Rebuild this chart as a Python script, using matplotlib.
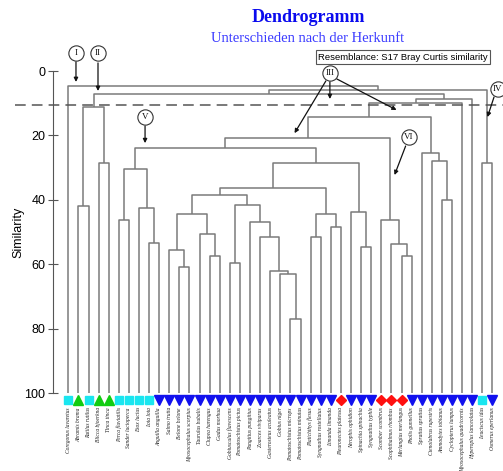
import matplotlib.pyplot as plt

# leaves in plotting order
leaf_names = ['Coregonus lavaretus', 'Abramis brama', 'Rutilus rutilus', 'Blicca bjoerkna',
              'Tinca tinca', 'Perca fluviatilis', 'Sander lucioperca', 'Esox lucius',
              'Lota lota', 'Anguilla anguilla', 'Salmo trutta', 'Belone belone',
              'Myoxocephalus scorpius', 'Taurulus bubalis', 'Clupea harengus', 'Gadus morhua',
              'Gobiusculus flavescens', 'Pomatoschistus pictus', 'Pungitius pungitius',
              'Zoarces viviparus', 'Gasterosteus aculeatus', 'Gobius niger',
              'Pomatoschistus microps', 'Pomatoschistus minutus', 'Platichthys flesus',
              'Syngnathus rostellatus', 'Limanda limanda', 'Pleuronectes platessa',
              'Nerophis ophidion', 'Spinachia spinachia', 'Syngnathus typhle',
              'Scomber scombrus', 'Scophthalmus rhombus', 'Merlangius merlangus',
              'Pholis gunnellus', 'Sprattus sprattus', 'Ctenolabrus rupestris',
              'Ammodytes tobianus', 'Cyclopterus lumpus', 'Myoxocephalus quadricornis',
              'Hyperoplus lanceolatus', 'Leuciscus idus', 'Osmerus eperlanus']
leaf_group = ['q', 'g', 'q', 'g', 'g', 'q', 'q', 'q', 'q',
              'b', 'b', 'b', 'b', 'b', 'b', 'b', 'b', 'b', 'b', 'b', 'b', 'b', 'b', 'b', 'b', 'b', 'b',
              'r', 'b', 'b', 'b', 'r', 'r', 'r',
              'b', 'b', 'b', 'b', 'b', 'b', 'b', 'q', 'b']

# merges: ids < 43 are leaves, id 43+k is the k-th merge
merge_left = [1, 3, 43, 5, 8, 7, 46, 11, 10, 14, 13, 51, 16, 22, 21, 20, 19, 18, 55, 54, 24, 26,
              63, 62, 29, 28, 66, 49, 33, 32, 31, 37, 36, 35, 70, 77, 78, 79, 45, 41, 81, 0]
merge_right = [2, 4, 44, 6, 9, 47, 48, 12, 50, 15, 52, 53, 17, 23, 56, 57, 58, 59, 60, 61, 25, 27,
               64, 65, 30, 67, 68, 69, 34, 71, 72, 38, 74, 75, 73, 76, 39, 40, 80, 42, 82, 83]
merge_sim = [41.9, 28.6, 11.2, 46.3, 53.4, 42.5, 30.4, 61.0, 55.5, 57.5, 50.6, 44.4, 59.5, 77.0,
             63.0, 62.0, 51.5, 47.0, 41.6, 38.5, 51.5, 48.3, 44.5, 36.4, 54.7, 43.8, 28.6, 23.8,
             57.5, 53.8, 46.3, 40.0, 28.0, 25.5, 20.9, 14.3, 9.9, 8.7, 7.1, 28.6, 5.9, 4.7]

cut_level = 10.6
y_ticks = [0, 20, 40, 60, 80, 100]

# group numerals: circle position (leaf index, similarity) and arrows
numerals = ['I', 'II', 'III', 'IV', 'V', 'VI']
num_pos = [(0.76, -5.6), (2.94, -5.6), (25.9, 0.6), (42.5, 5.6), (7.6, 14.3), (33.7, 20.5)]
num_arrows = [[((0.76, -2.8), (0.76, 3.4))],
              [((2.94, -2.5), (2.94, 6.2))],
              [((25.9, 3.4), (25.9, 8.7)), ((25.5, 3.1), (22.4, 19.3)), ((26.6, 2.5), (32.5, 12.1))],
              [((42.15, 8.1), (41.5, 14.3))],
              [((7.6, 17.1), (7.6, 22.4))],
              [((33.4, 23.3), (32.3, 32.3))]]

styles = {'q': dict(marker='s', color='#19e6f0', ms=6),
          'g': dict(marker='^', color='#11cc11', ms=7),
          'b': dict(marker='v', color='#1010ee', ms=7),
          'r': dict(marker='D', color='#ff1010', ms=5.5)}

fig = plt.figure(figsize=(5.03, 4.71), dpi=100)
ax = fig.add_axes([53 / 503, 78 / 471, 450 / 503, 322 / 471])
ax.set_xlim(-1.515, 43.04)
ax.set_ylim(100, 0)

n = len(leaf_names)
pos = list(range(n))
hgt = [100.0] * n
line_col = '#7a7a7a'
for l, r, s in zip(merge_left, merge_right, merge_sim):
    ax.plot([pos[l], pos[l], pos[r], pos[r]], [hgt[l], s, s, hgt[r]],
            color=line_col, lw=1.1, clip_on=False, solid_capstyle='butt')
    pos.append((pos[l] + pos[r]) / 2)
    hgt.append(s)

ax.axhline(cut_level, xmin=-0.085, xmax=1.0, color='#555555', lw=1.1,
           dashes=(7, 4), clip_on=False)

for i, (name, g) in enumerate(zip(leaf_names, leaf_group)):
    st = styles[g]
    ax.plot(i, 102.2, marker=st['marker'], color=st['color'], ms=st['ms'],
            mec=st['color'], ls='none', clip_on=False)
    ax.text(i, 104.4, name, rotation=90, ha='center', va='top', fontsize=4.0,
            style='italic', family='Liberation Serif', color='#222222')

for lab, (cx, cy), arrs in zip(numerals, num_pos, num_arrows):
    for start, end in arrs:
        ax.annotate('', xy=end, xytext=start, annotation_clip=False,
                    arrowprops=dict(arrowstyle='-|>', color='#111111', lw=0.9,
                                    mutation_scale=6, shrinkA=0, shrinkB=0))
    ax.plot(cx, cy, 'o', ms=11, mfc='white', mec='#333333', mew=0.8, clip_on=False)
    ax.text(cx, cy, lab, ha='center', va='center', fontsize=6.5,
            family='Liberation Serif', color='#111111')

for sp in ['top', 'right', 'bottom']:
    ax.spines[sp].set_visible(False)
ax.spines['left'].set_bounds(0, 100)
ax.spines['left'].set_color('#555555')
ax.set_xticks([])
ax.set_yticks(y_ticks)
ax.tick_params(axis='y', direction='inout', length=7, color='#555555',
               labelsize=9, pad=2)
for t in ax.get_yticklabels():
    t.set_family('Liberation Sans')

fig.text(18 / 503, 1 - 232 / 471, 'Similarity', rotation=90, ha='center', va='center',
         fontsize=9, family='Liberation Sans')
fig.text(308 / 503, 1 - 18 / 471, 'Dendrogramm', ha='center', va='center', fontsize=13,
         fontweight='bold', family='Liberation Serif', color='#0a0aee')
fig.text(308 / 503, 1 - 39 / 471, 'Unterschieden nach der Herkunft', ha='center', va='center',
         fontsize=10.5, family='Liberation Serif', color='#3c3cff')
fig.text(318 / 503, 1 - 57 / 471, 'Resemblance: S17 Bray Curtis similarity', ha='left',
         va='center', fontsize=6.8, family='Liberation Sans',
         bbox=dict(boxstyle='square,pad=0.25', fc='white', ec='#555555', lw=0.8))

fig.savefig('out.png', dpi=100)
